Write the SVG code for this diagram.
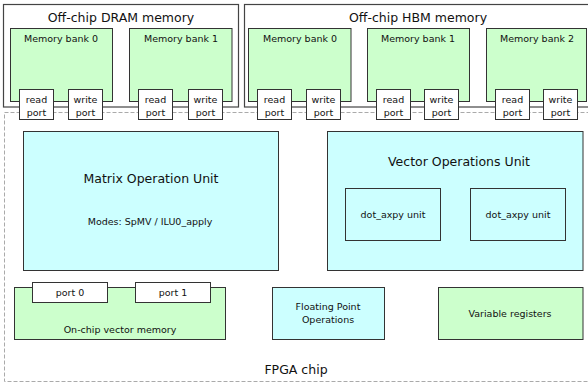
<svg xmlns="http://www.w3.org/2000/svg" width="588" height="383" viewBox="0 0 588 383">
<style>
text{font-family:"DejaVu Sans","Liberation Sans",sans-serif;fill:#111;text-anchor:middle}
.outer{fill:#fff;stroke:#444;stroke-width:1.2}
.bank{fill:#ccffcc;stroke:#333;stroke-width:1}
.cyan{fill:#ccffff;stroke:#333;stroke-width:1}
.green{fill:#ccffcc;stroke:#333;stroke-width:1}
.port{fill:#fff;stroke:#333;stroke-width:1}
.fpga{fill:none;stroke:#aaa;stroke-width:1;stroke-dasharray:4,2}
.t13{font-size:12.5px}
.t10{font-size:9.5px}
</style>
<rect width="588" height="383" fill="#fff"/>
<g id="fpga">
<rect class="fpga" x="4.5" y="112.5" width="592" height="269"/>
<text class="t13" x="296" y="374">FPGA chip</text>
</g>
<g id="dram">
<rect class="outer" x="3.5" y="4.5" width="235" height="102.5"/>
<text class="t13" x="121" y="22">Off-chip DRAM memory</text>
</g>
<g id="dram_bank0">
<rect class="bank" x="10.5" y="28.5" width="102" height="73"/>
<text class="t10" x="61" y="42">Memory bank 0</text>
<rect class="port" x="19.5" y="89.5" width="34" height="30"/>
<text class="t10" x="36.5" y="103">read</text><text class="t10" x="36.5" y="116">port</text>
<rect class="port" x="68.5" y="89.5" width="34" height="30"/>
<text class="t10" x="85.5" y="103">write</text><text class="t10" x="85.5" y="116">port</text>
</g>
<g id="dram_bank1">
<rect class="bank" x="129.5" y="28.5" width="102.5" height="73"/>
<text class="t10" x="181" y="42">Memory bank 1</text>
<rect class="port" x="138.5" y="89.5" width="34" height="30"/>
<text class="t10" x="155.5" y="103">read</text><text class="t10" x="155.5" y="116">port</text>
<rect class="port" x="188.5" y="89.5" width="34" height="30"/>
<text class="t10" x="205.5" y="103">write</text><text class="t10" x="205.5" y="116">port</text>
</g>
<g id="hbm">
<rect class="outer" x="244.5" y="4.5" width="350" height="102.5"/>
<text class="t13" x="418" y="22">Off-chip HBM memory</text>
</g>
<g id="hbm_bank0">
<rect class="bank" x="248.5" y="28.5" width="102.5" height="73"/>
<text class="t10" x="300" y="42">Memory bank 0</text>
<rect class="port" x="257.5" y="89.5" width="34" height="30"/>
<text class="t10" x="274.5" y="103">read</text><text class="t10" x="274.5" y="116">port</text>
<rect class="port" x="306.5" y="89.5" width="34" height="30"/>
<text class="t10" x="323.5" y="103">write</text><text class="t10" x="323.5" y="116">port</text>
</g>
<g id="hbm_bank1">
<rect class="bank" x="367.5" y="28.5" width="102" height="73"/>
<text class="t10" x="418" y="42">Memory bank 1</text>
<rect class="port" x="376.5" y="89.5" width="34" height="30"/>
<text class="t10" x="393.5" y="103">read</text><text class="t10" x="393.5" y="116">port</text>
<rect class="port" x="424.5" y="89.5" width="34" height="30"/>
<text class="t10" x="441.5" y="103">write</text><text class="t10" x="441.5" y="116">port</text>
</g>
<g id="hbm_bank2">
<rect class="bank" x="486.5" y="28.5" width="100" height="73"/>
<text class="t10" x="537" y="42">Memory bank 2</text>
<rect class="port" x="495.5" y="89.5" width="34" height="30"/>
<text class="t10" x="512.5" y="103">read</text><text class="t10" x="512.5" y="116">port</text>
<rect class="port" x="543.5" y="89.5" width="34" height="30"/>
<text class="t10" x="560.5" y="103">write</text><text class="t10" x="560.5" y="116">port</text>
</g>
<g id="matrix_unit">
<rect class="cyan" x="23.5" y="131.5" width="255" height="139"/>
<text class="t13" x="151" y="183">Matrix Operation Unit</text>
<text class="t10" x="150" y="225">Modes: SpMV / ILU0_apply</text>
</g>
<g id="vector_unit">
<rect class="cyan" x="327.5" y="131.5" width="255.5" height="139"/>
<text class="t13" x="459" y="166">Vector Operations Unit</text>
</g>
<g id="dot_axpy_0">
<rect class="cyan" x="345.5" y="188.5" width="95" height="52"/>
<text class="t10" x="393" y="218">dot_axpy unit</text>
</g>
<g id="dot_axpy_1">
<rect class="cyan" x="470.5" y="188.5" width="95" height="52"/>
<text class="t10" x="518" y="218">dot_axpy unit</text>
</g>
<g id="vector_memory">
<rect class="green" x="14.5" y="287.5" width="211" height="52"/>
<rect class="port" x="32.5" y="282.5" width="75" height="20"/>
<text class="t10" x="70" y="296">port 0</text>
<rect class="port" x="135.5" y="282.5" width="75" height="20"/>
<text class="t10" x="173" y="296">port 1</text>
<text class="t10" x="120" y="333">On-chip vector memory</text>
</g>
<g id="fp_ops">
<rect class="cyan" x="272.5" y="287.5" width="112" height="52"/>
<text class="t10" x="328" y="310">Floating Point</text>
<text class="t10" x="328" y="323">Operations</text>
</g>
<g id="var_regs">
<rect class="green" x="438.5" y="287.5" width="144.5" height="52"/>
<text class="t10" x="510" y="317">Variable registers</text>
</g>
<g id="connectors"/>
</svg>
